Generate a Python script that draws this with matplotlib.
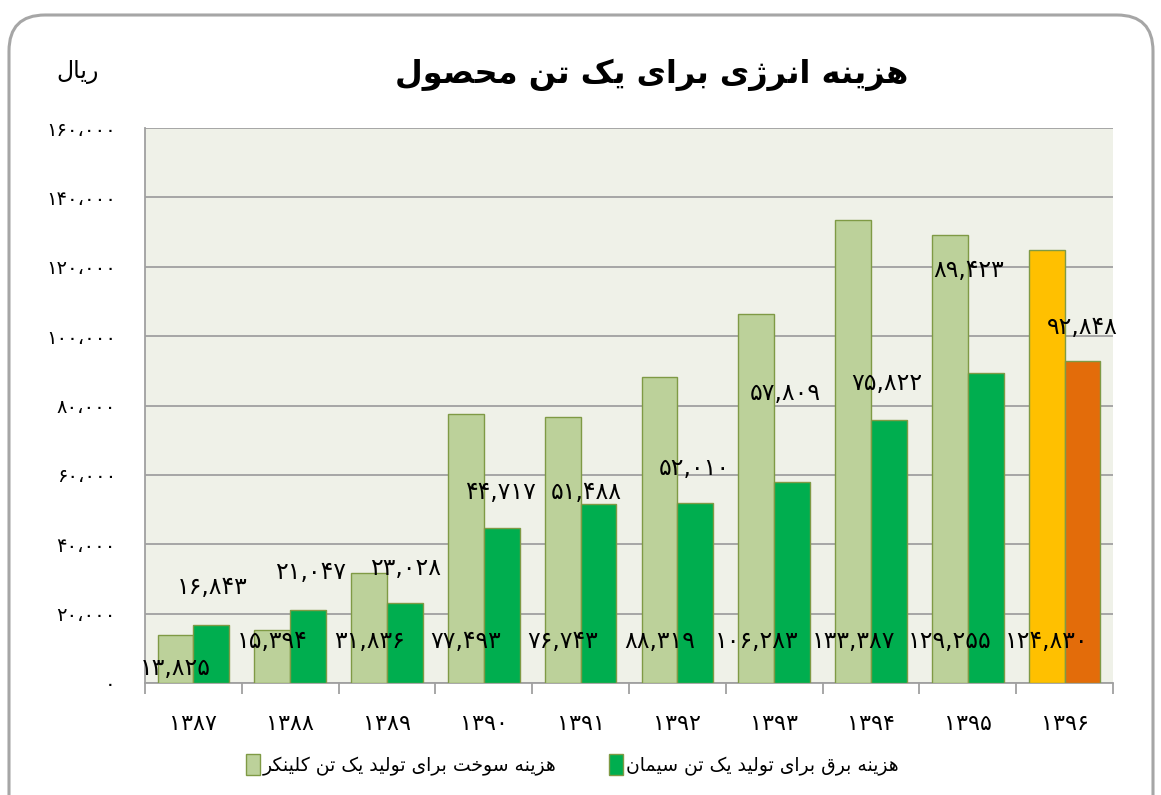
import numpy as np
import matplotlib
matplotlib.use("Agg")
import matplotlib.pyplot as plt
from matplotlib.patches import FancyBboxPatch, Patch
from matplotlib.transforms import IdentityTransform

# داده ها
salha = ['1387', '1388', '1389', '1390', '1391', '1392', '1393', '1394', '1395', '1396']
hazine_sokht = [13825, 15394, 31836, 77493, 76743, 88319, 106283, 133387, 129255, 124830]
hazine_bargh = [16843, 21047, 23028, 44717, 51488, 52010, 57809, 75822, 89423, 92848]
y_ticks = [0, 20000, 40000, 60000, 80000, 100000, 120000, 140000, 160000]

onvan = 'هزینه انرژی برای یک تن محصول'
vahed = 'ریال'
name_sokht = 'هزینه سوخت برای تولید یک تن کلینکر'
name_bargh = 'هزینه برق برای تولید یک تن سیمان'

# جابجایی دستی برچسب ها (پیکسل)
bargh_dx = [1, 2, 1, -1, -12, -1, -7, -2, -17, 0]
bargh_dy = [38, 38, 35, 36, 12, 35, 89, 37, 103, 34]
sokht_y = [15, 42, 42, 42, 42, 42, 42, 42, 42, 42]

# matplotlib harf ha ro be ham vasl nemikone, pas shekl ha ro dasti misazim
FORMS = {
    '\u0627': ('\uFE8D', '\uFE8E', None, None),
    '\u0628': ('\uFE8F', '\uFE90', '\uFE91', '\uFE92'),
    '\u062A': ('\uFE95', '\uFE96', '\uFE97', '\uFE98'),
    '\u062D': ('\uFEA1', '\uFEA2', '\uFEA3', '\uFEA4'),
    '\u062E': ('\uFEA5', '\uFEA6', '\uFEA7', '\uFEA8'),
    '\u062F': ('\uFEA9', '\uFEAA', None, None),
    '\u0631': ('\uFEAD', '\uFEAE', None, None),
    '\u0632': ('\uFEAF', '\uFEB0', None, None),
    '\u0698': ('\uFB8A', '\uFB8B', None, None),
    '\u0633': ('\uFEB1', '\uFEB2', '\uFEB3', '\uFEB4'),
    '\u0635': ('\uFEB9', '\uFEBA', '\uFEBB', '\uFEBC'),
    '\u0642': ('\uFED5', '\uFED6', '\uFED7', '\uFED8'),
    '\u06A9': ('\uFB8E', '\uFB8F', '\uFB90', '\uFB91'),
    '\u0644': ('\uFEDD', '\uFEDE', '\uFEDF', '\uFEE0'),
    '\u0645': ('\uFEE1', '\uFEE2', '\uFEE3', '\uFEE4'),
    '\u0646': ('\uFEE5', '\uFEE6', '\uFEE7', '\uFEE8'),
    '\u0647': ('\uFEE9', '\uFEEA', '\uFEEB', '\uFEEC'),
    '\u0648': ('\uFEED', '\uFEEE', None, None),
    '\u06CC': ('\uFBFC', '\uFBFD', '\uFBFE', '\uFBFF'),
}


def fa(matn):
    matn = matn.replace('\u064A', '\u06CC').replace('\u0643', '\u06A9')
    out = []
    for i, ch in enumerate(matn):
        if ch not in FORMS:
            out.append(ch)
            continue
        prev = matn[i - 1] if i > 0 else ''
        nxt = matn[i + 1] if i + 1 < len(matn) else ''
        az_ghabl = prev in FORMS and FORMS[prev][2] is not None
        be_bad = FORMS[ch][2] is not None and nxt in FORMS
        if az_ghabl and be_bad:
            out.append(FORMS[ch][3])
        elif az_ghabl:
            out.append(FORMS[ch][1])
        elif be_bad:
            out.append(FORMS[ch][2])
        else:
            out.append(FORMS[ch][0])
    return ''.join(out)[::-1]


ragham = str.maketrans('0123456789', '۰۱۲۳۴۵۶۷۸۹')


def adad(v, sep=','):
    return '{:,}'.format(v).replace(',', sep).translate(ragham)


plt.rcParams['font.family'] = ['DejaVu Sans']

fig = plt.figure(figsize=(11.61, 7.95), dpi=100)
ax = fig.add_axes([145 / 1161, 112 / 795, 968 / 1161, 555 / 795])

# kadr gerd dor nemudar
kadr = FancyBboxPatch((9, -40), 1144, 820, boxstyle='round,pad=0,rounding_size=36',
                      transform=IdentityTransform(), facecolor='none',
                      edgecolor='#a6a6a6', linewidth=2.2, zorder=0)
fig.patches.append(kadr)

x = np.arange(len(salha))
w = 0.37
rang_sokht = ['#bcd19a'] * 9 + ['#ffc000']
rang_bargh = ['#00ae4f'] * 9 + ['#e36c0a']
ax.bar(x - w / 2, hazine_sokht, w, color=rang_sokht, edgecolor='#7f9a45', linewidth=1, zorder=3)
ax.bar(x + w / 2, hazine_bargh, w, color=rang_bargh, edgecolor='#7f9a45', linewidth=1, zorder=3)

# barchasb ha
for i in range(len(salha)):
    ax.annotate(adad(hazine_sokht[i]), (x[i] - w / 2, 0), xytext=(0, sokht_y[i] * 0.72),
                textcoords='offset points', ha='center', va='center', fontsize=17, zorder=5)
    ax.annotate(adad(hazine_bargh[i]), (x[i] + w / 2, hazine_bargh[i]),
                xytext=(bargh_dx[i] * 0.72, bargh_dy[i] * 0.72),
                textcoords='offset points', ha='center', va='center', fontsize=17, zorder=5)

ax.set_facecolor('#eff1e8')
ax.set_xlim(-0.5, len(salha) - 0.5)
ax.set_ylim(0, 160000)
ax.set_yticks(y_ticks)
ax.set_yticklabels([adad(t, '\u060C') for t in y_ticks], fontsize=14)
ax.tick_params(axis='y', length=0, pad=21)
ax.grid(axis='y', color='#a0a0a0', linewidth=1.3, zorder=1)

ax.set_xticks(x)
ax.set_xticklabels([s.translate(ragham) for s in salha], fontsize=16)
ax.set_xticks(np.arange(len(salha) + 1) - 0.5, minor=True)
ax.tick_params(axis='x', which='major', length=0, pad=22)
ax.tick_params(axis='x', which='minor', length=8, width=1.3, color='#a0a0a0')

for s in ['top', 'right']:
    ax.spines[s].set_visible(False)
ax.spines['left'].set_color('#a0a0a0')
ax.spines['bottom'].set_color('#a0a0a0')
ax.spines['left'].set_linewidth(1.3)
ax.spines['bottom'].set_linewidth(1.3)

fig.text(652 / 1161, 1 - 75 / 795, fa(onvan), ha='center', va='center', fontsize=23, fontweight='bold')
fig.text(78 / 1161, 1 - 72 / 795, fa(vahed), ha='center', va='center', fontsize=17)

dast = [Patch(facecolor='#bcd19a', edgecolor='#7f9a45'), Patch(facecolor='#00ae4f', edgecolor='#7f9a45')]
fig.legend(dast, [fa(name_sokht), fa(name_bargh)], loc='center', bbox_to_anchor=(572 / 1161, 30 / 795),
           ncol=2, frameon=False, fontsize=13.5, handlelength=0.75, handleheight=1.3,
           handletextpad=0.15, columnspacing=2.8)

fig.savefig('out.png', dpi=100)
